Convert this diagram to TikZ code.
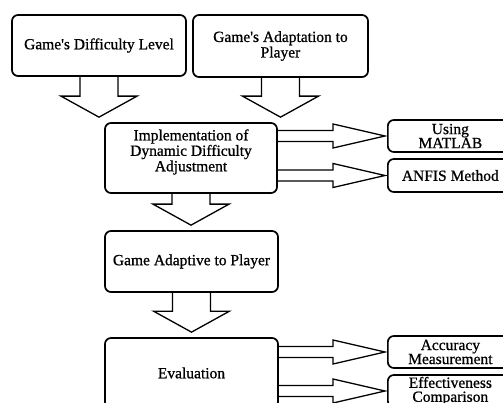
\documentclass[tikz,border=0pt]{standalone}
\usepackage{fontspec}
\setmainfont{Liberation Serif}[FakeBold=0.8]
\usetikzlibrary{calc}
\newcommand{\fatdown}[2]{%
  \draw[fat] ($(#1.south)+(-19,0)$) -- ($(#1.south |- #2.north)+(-19,-26)$)
    -- ($(#1.south |- #2.north)+(-38,-26)$) -- ($(#1.south |- #2.north)+(0,-5)$)
    -- ($(#1.south |- #2.north)+(38,-26)$) -- ($(#1.south |- #2.north)+(19,-26)$)
    -- ($(#1.south)+(19,0)$);}
\newcommand{\fatright}[2]{%
  \draw[fat] ($(#1.east |- #2.west)+(0,-5.5)$) -- ($(#2.west)+(-54,-5.5)$)
    -- ($(#2.west)+(-54,-12)$) -- ($(#2.west)+(-2,0)$)
    -- ($(#2.west)+(-54,12)$) -- ($(#2.west)+(-54,5.5)$)
    -- ($(#1.east |- #2.west)+(0,5.5)$);}
\begin{document}
\begin{tikzpicture}[x=1pt,y=-1pt,
  box/.style={draw,line width=1.7pt,rounded corners=6pt,align=center,
    font=\fontsize{15.5}{15.5}\selectfont,inner sep=0pt},
  txt/.style={align=center,font=\fontsize{15.5}{15.5}\selectfont,inner sep=0pt},
  sidebox/.style={box,anchor=west,minimum width=125pt,minimum height=32pt,
    font=\fontsize{15.5}{14}\selectfont},
  fat/.style={draw,line width=1.3pt,line join=miter}]
\fill[white] (0,0) rectangle (503,403);
\useasboundingbox (0,0) rectangle (503,403);
\clip (0,0) rectangle (503,403);
% main boxes
\node[box,minimum width=174pt,minimum height=61pt] (dl) at (99,45.5) {Game\textquotesingle s Difficulty Level};
\node[box,minimum width=175pt,minimum height=62pt] (ap) at (280.5,46) {Game\textquotesingle s Adaptation to\\Player};
\node[box,minimum width=172pt,minimum height=70pt] (impl) at (191,158) {};
\node[txt] (impltext) at (191,152) {Implementation of\\Dynamic Difficulty\\Adjustment};
\node[box,minimum width=173pt,minimum height=61pt] (gap) at (191.5,261.5) {Game Adaptive to Player};
\node[box,minimum width=173pt,minimum height=70pt] (eval) at (191.5,373) {Evaluation};
% side boxes
\node[sidebox] (matlab) at (387,136) {Using\\MATLAB};
\node[sidebox,minimum height=33pt] (anfis) at (387,175.5) {ANFIS Method};
\node[sidebox] (acc) at (387,352) {Accuracy\\Measurement};
\node[sidebox] (eff) at (387,391) {Effectiveness\\Comparison};
% fat arrows
\fatdown{dl}{impl}
\fatdown{ap}{impl}
\fatdown{impl}{gap}
\fatdown{gap}{eval}
\fatright{impl}{matlab}
\fatright{impl}{anfis}
\fatright{eval}{acc}
\fatright{eval}{eff}
\end{tikzpicture}
\end{document}
